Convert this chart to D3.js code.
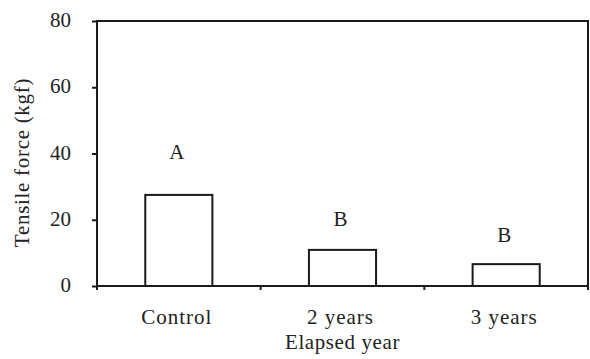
<!DOCTYPE html>
<html>
<head>
<meta charset="utf-8">
<script src="https://cdn.jsdelivr.net/npm/d3@7"></script>
<style>
  body { margin: 0; background: #fff; }
  text { font-family: "Liberation Serif", "Times New Roman", serif; fill: #222; }
</style>
</head>
<body>
<div id="graph"></div>
<script>
WIDTH = 590;
HEIGHT = 359;

// data
var categories = ["Control", "2 years", "3 years"];
var tensile = [27.5, 10.9, 6.6];          // kgf
var letters = ["A", "B", "B"];            // significance groups
var letterPos = [38.3, 18.1, 13.3];       // where the letters sit, kgf
var yTicks = [0, 20, 40, 60, 80];

var margin = {left: 97, right: 2, top: 21, bottom: 73};

var svg = d3.select("#graph").append("svg").attr("width", WIDTH).attr("height", HEIGHT);

var y = d3.scaleLinear().domain([0, 80]).range([HEIGHT - margin.bottom, margin.top]);
var xCell = d3.scaleBand().domain(categories).range([margin.left, WIDTH - margin.right]).padding(0);
var xBar = d3.scaleBand().domain(categories).range([margin.left, WIDTH - margin.right])
	.paddingInner(0.59).paddingOuter(0.295);

var ink = "#1a1a1a";

// bars
svg.append("g").selectAll("rect")
	.data(categories)
	.enter()
	.append("rect")
	.attr("x", function(d) { return xBar(d); })
	.attr("y", function(d, i) { return y(tensile[i]); })
	.attr("width", xBar.bandwidth())
	.attr("height", function(d, i) { return y(0) - y(tensile[i]); })
	.attr("fill", "#fff")
	.attr("stroke", ink)
	.attr("stroke-width", 2);

// frame
svg.append("rect")
	.attr("x", margin.left).attr("y", margin.top)
	.attr("width", WIDTH - margin.right - margin.left)
	.attr("height", y(0) - margin.top)
	.attr("fill", "none").attr("stroke", ink).attr("stroke-width", 2);

// y axis
var yAxis = svg.append("g")
	.attr("transform", "translate(" + margin.left + ",0)")
	.call(d3.axisLeft(y).tickValues(yTicks).tickSize(5).tickPadding(21));
yAxis.select(".domain").remove();
yAxis.selectAll("line").attr("stroke", ink).attr("stroke-width", 2);
yAxis.selectAll("text")
	.attr("font-family", "Liberation Serif").attr("font-size", 21)
	.attr("fill", "#222").attr("dy", "0.27em");

// x axis: ticks on the boundaries between groups
var bounds = categories.map(function(d) { return xCell(d); }).concat([xCell.range()[1]]);
svg.append("g").selectAll("line")
	.data(bounds)
	.enter()
	.append("line")
	.attr("x1", function(d) { return d; })
	.attr("x2", function(d) { return d; })
	.attr("y1", y(0))
	.attr("y2", y(0) + 4)
	.attr("stroke", ink).attr("stroke-width", 2);

svg.append("g").selectAll("text")
	.data(categories)
	.enter()
	.append("text")
	.attr("x", function(d) { return xCell(d) + xCell.bandwidth() / 2 - 2; })
	.attr("y", 324)
	.attr("text-anchor", "middle")
	.attr("font-size", 21)
	.attr("letter-spacing", 1)
	.text(function(d) { return d; });

// letters
svg.append("g").selectAll("text")
	.data(letters)
	.enter()
	.append("text")
	.attr("x", function(d, i) { return xBar(categories[i]) + xBar.bandwidth() / 2 - 2; })
	.attr("y", function(d, i) { return y(letterPos[i]); })
	.attr("text-anchor", "middle")
	.attr("font-size", 21)
	.text(function(d) { return d; });

// axis titles
svg.append("text")
	.attr("x", (margin.left + WIDTH - margin.right) / 2)
	.attr("y", 349)
	.attr("text-anchor", "middle")
	.attr("font-size", 21)
	.attr("letter-spacing", 0.6)
	.text("Elapsed year");

svg.append("text")
	.attr("transform", "translate(29,162.5) rotate(-90)")
	.attr("text-anchor", "middle")
	.attr("font-size", 21)
	.attr("letter-spacing", 0.7)
	.text("Tensile force (kgf)");
</script>
</body>
</html>
